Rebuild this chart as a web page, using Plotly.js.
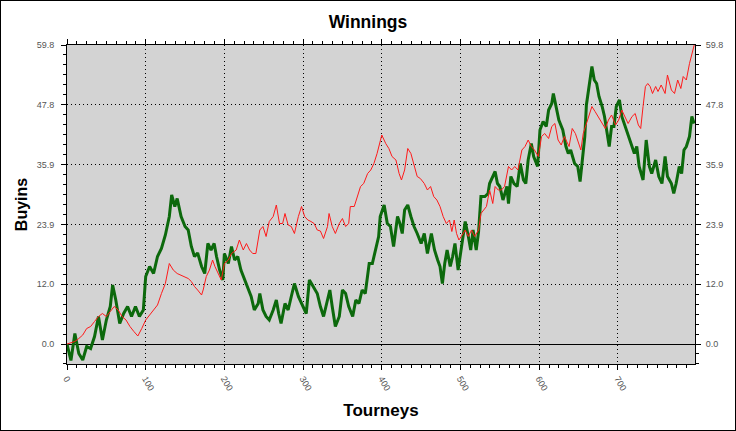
<!DOCTYPE html>
<html>
<head>
<meta charset="utf-8">
<script src="https://cdn.plot.ly/plotly-3.0.1.min.js"></script>
<style>
html,body{margin:0;padding:0;background:#fff;}
#wrap{position:relative;width:736px;height:431px;}
#chart{width:736px;height:431px;}
#frame{position:absolute;left:0;top:0;width:736px;height:431px;box-sizing:border-box;border:1px solid #000;pointer-events:none;}
</style>
</head>
<body>
<div id="wrap"><div id="chart"></div><div id="frame"></div></div>
<script>
// Green series (thick)
var greenX = [0,5,10,15,20,25,30,35,40,45,50,55,58,62,67,72,77,82,87,92,97,100,105,110,115,120,125,130,133,137,140,145,150,154,158,162,166,171,175,179,183,187,190,194,198,200,205,209,213,217,221,226,230,234,238,243,245,249,253,257,262,266,269,272,277,281,285,289,294,298,304,308,313,318,322,326,331,334,337,341,346,350,354,358,363,367,371,375,379,384,388,392,396,398,403,407,411,415,420,423,426,429,433,437,441,445,450,454,458,463,467,471,474,477,480,483,487,490,493,497,501,506,510,513,516,520,523,526,531,535,537,541,544,547,550,554,559,561,564,568,572,576,580,583,586,590,593,598,601,605,609,612,616,618,621,625,630,634,637,640,645,649,652,655,658,660,663,667,670,673,676,680,683,686,689,692,695,698,702,705,708,712,717,721,724,727,732,736,740,743,748,752,756,760,763,768,771,774,778,781,784,787,791,794,797];
var greenY = [0,-3.3,2.1,-1.9,-3.2,-0.5,-0.9,1.5,5.5,0.8,4.8,7.5,11.8,8.8,4.1,6.1,7.5,5.5,7.5,5.5,6.8,13.5,15.5,14.1,17.5,19.1,21.8,25.5,29.8,27.5,29.1,25.5,23.5,22.8,19.5,17.5,18.2,15.5,14.1,20.1,18.8,20.1,17.5,14.8,12.8,18.1,16.1,19.5,16.8,17.5,14.8,12.8,11.5,9.5,6.8,8.1,10.1,6.8,5.5,4.8,6.8,8.8,6.1,4.1,8.1,6.8,9.5,12.1,9.5,8.1,6.1,12.8,11.5,10.1,7.5,5.5,8.8,10.8,7.5,3.5,5.5,10.8,10.1,7.5,5.5,8.8,8.1,10.8,10.1,16.1,16.1,18.8,21.5,25.5,27.8,24.1,23.5,19.5,25.5,24.1,22.1,26.8,27.8,25.5,23.5,22.1,20.1,22.1,18.1,22.1,18.8,16.8,15.5,12.1,16.1,18.8,15.5,17.5,20.1,14.8,19.5,24.5,21.5,18.8,22.8,18.8,22.5,29.5,29.5,30.1,32.1,33.5,34.5,32.1,31.5,28.8,31.5,28.1,33.5,32.1,31.5,36.1,32.8,32.1,36.8,40.1,37.5,35.5,42.8,44.5,43.5,46.8,48.1,50.1,47.5,44.8,42.8,39.5,38.1,38.8,36.1,35.5,32.5,37.5,41.5,47.8,51.5,55.5,52.8,52.1,49.5,47.5,45.5,42.8,39.5,43.5,43.5,47.5,48.8,45.5,44.1,42.1,39.5,38.1,39.5,35.5,32.8,40.8,35.5,34.1,36.8,33.5,32.1,37.5,33.5,32.1,30.1,32.1,35.5,34.1,38.8,39.5,41.5,45.5,44.1];

// Red series (thin)
var redX = [0,5,10,15,20,25,30,35,40,45,50,55,60,65,70,75,80,85,90,95,100,105,110,115,120,125,130,135,140,145,150,154,158,162,166,171,173,177,181,185,188,192,196,200,205,209,215,219,224,228,232,236,240,245,249,253,257,262,266,270,274,277,281,285,289,294,298,302,306,310,314,318,322,326,331,333,337,341,346,350,354,358,360,365,369,373,377,382,386,390,394,400,405,409,413,418,422,425,429,433,437,441,445,449,454,458,462,466,470,474,478,482,486,489,492,495,498,501,506,510,514,518,523,526,529,533,537,541,544,548,552,556,561,565,569,573,578,582,586,590,594,599,603,607,612,616,620,624,628,632,638,642,646,649,653,656,660,664,667,671,675,680,684,688,692,697,701,705,709,713,718,722,726,729,732,735,738,741,744,748,751,755,760,763,768,772,776,780,783,787,791,794,797];
var redY = [0,0.3,0.5,1.1,1.8,3.1,3.5,4.5,5.5,6.1,5.5,6.5,7.5,6.8,5.5,4.8,3.5,2.5,1.6,3.1,4.8,5.8,6.8,7.8,10.1,12.1,16.1,14.8,14.1,13.8,13.5,13.1,12.5,11.5,10.8,9.8,10.8,13.5,14.8,16.8,15.5,14.1,12.8,16.1,16.8,18.1,18.8,20.8,18.8,20.1,18.8,18.1,18.1,22.8,23.5,21.5,24.5,25.5,27.8,24.1,24.1,26.1,23.8,23.5,22.1,25.5,27.5,25.5,24.8,24.5,24.1,22.8,22.6,21.1,23.5,26.1,23.5,22.1,24.1,25.1,23.5,24.1,27.5,27.5,29.5,31.5,32.1,34.1,34.8,36.1,38.1,41.8,40.1,39.1,37.5,36.8,34.1,32.8,34.8,39.1,38.1,35.5,33.5,33.1,32.1,30.8,31.5,29.5,28.8,27.5,25.5,24.1,24.8,22.5,24.8,22.1,20.8,21.5,22.8,21.5,22.8,21.5,22.8,26.1,26.8,27.5,30.8,28.1,31.5,30.8,30.8,31.5,35.5,34.8,35.5,34.8,38.8,39.5,40.8,39.5,38.8,37.5,41.5,42.1,41.1,43.5,44.1,40.8,39.8,41.5,39.5,43.1,42.1,40.8,38.8,42.1,44.1,46.1,47.5,46.5,45.5,44.1,43.1,44.8,45.8,43.8,44.8,46.8,45.5,44.1,45.5,46.1,43.8,43.1,47.5,51.5,52.1,51.5,50.1,51.5,50.5,51.8,50.1,53.8,50.8,50.1,52.8,51.1,53.5,52.8,56.1,58.1,59.8];

var xTicks = [0,100,200,300,400,500,600,700];
var xTickText = ["0","100","200","300","400","500","600","700"];
var yTicks = [0,11.96,23.92,35.88,47.84,59.8];
var yTickText = ["0.0","12.0","23.9","35.9","47.8","59.8"];

var FONT = "Liberation Sans, Arial, sans-serif";
var tickFont = {family:FONT, size:9, color:"#555555"};
var yRange = [-4.0, 59.8];
var gridDash = "1px,3px";

var traces = [
  {x:greenX, y:greenY, type:"scatter", mode:"lines", line:{color:"#0c690c", width:3}, hoverinfo:"skip"},
  {x:redX, y:redY, type:"scatter", mode:"lines", line:{color:"#ff1a1a", width:1}, hoverinfo:"skip"},
  {x:[null], y:[null], type:"scatter", mode:"lines", yaxis:"y2", hoverinfo:"skip", showlegend:false}
];

var yCommon = {
  range: yRange, tickmode:"array", tickvals:yTicks, ticktext:yTickText,
  ticks:"outside", ticklen:5, tickcolor:"#000", tickwidth:1,
  showline:true, linecolor:"#000", linewidth:1,
  tickfont: tickFont,
  minor:{ticks:"outside", ticklen:3, tickcolor:"#000", tick0:0, dtick:59.8/30, showgrid:false}
};

var layout = {
  width:736, height:431,
  margin:{l:67, r:41, t:45, b:67, pad:0},
  paper_bgcolor:"#ffffff",
  plot_bgcolor:"#d3d3d3",
  showlegend:false,
  title:{text:"<b>Winnings</b>", x:0.5, xref:"container", y:0.95, yref:"container", yanchor:"middle",
         font:{family:FONT, size:17.5, color:"#000"}},
  xaxis:{
    range:[0,798], tickmode:"array", tickvals:xTicks, ticktext:xTickText,
    tickangle:60, ticks:"outside", ticklen:5, tickcolor:"#000",
    showline:true, linecolor:"#000", linewidth:1, mirror:"ticks",
    tickfont: tickFont,
    showgrid:true, gridcolor:"#000", griddash:gridDash, gridwidth:1,
    zeroline:false,
    minor:{ticks:"outside", ticklen:3, tickcolor:"#000", tick0:0, dtick:12.5, showgrid:false},
    title:{text:"<b>Tourneys</b>", standoff:12, font:{family:FONT, size:17, color:"#000"}}
  },
  yaxis: Object.assign({}, yCommon, {
    ticklabelstandoff:5,
    showgrid:true, gridcolor:"#000", griddash:gridDash, gridwidth:1,
    zeroline:true, zerolinecolor:"#000", zerolinewidth:1,
    title:{text:"<b>Buyins</b>", standoff:5, font:{family:FONT, size:16, color:"#000"}}
  }),
  yaxis2: Object.assign({}, yCommon, {
    ticklabelstandoff:3,
    overlaying:"y", side:"right", anchor:"x",
    showgrid:false, zeroline:false
  })
};

Plotly.newPlot("chart", traces, layout, {displayModeBar:false, staticPlot:true});
</script>
</body>
</html>
